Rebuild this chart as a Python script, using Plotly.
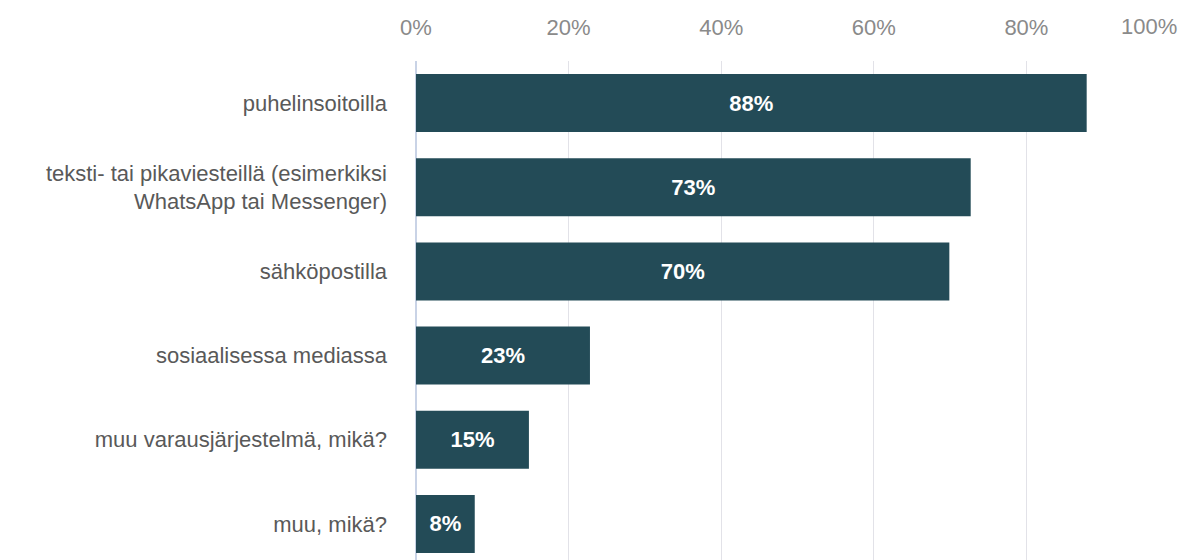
import plotly.graph_objects as go

categories = [
    "puhelinsoitoilla",
    "teksti- tai pikaviesteillä (esimerkiksi<br>WhatsApp tai Messenger)",
    "sähköpostilla",
    "sosiaalisessa mediassa",
    "muu varausjärjestelmä, mikä?",
    "muu, mikä?",
]
values = [87.9, 72.7, 69.9, 22.8, 14.8, 7.7]
labels = ["88%", "73%", "70%", "23%", "15%", "8%"]
tick_vals = [0, 20, 40, 60, 80, 100]
tick_text = ["0%", "20%", "40%", "60%", "80%", "100%"]

FS = 22

fig = go.Figure(go.Bar(
    y=categories,
    x=values,
    orientation="h",
    text=labels,
    textposition="inside",
    insidetextanchor="middle",
    textangle=0,
    textfont=dict(family="Liberation Sans, Arial", size=FS, color="white", weight="bold"),
    marker=dict(color="#234b57", line=dict(width=0)),
    hoverinfo="skip",
))

# last tick label would overflow the right edge; draw it right-aligned to its gridline
fig.add_annotation(
    x=tick_vals[-1], xref="x", xanchor="right",
    y=1, yref="paper", yanchor="middle", yshift=35,
    text=tick_text[-1], showarrow=False,
    font=dict(family="Liberation Sans, Arial", size=FS, color="#8a8a8a"),
)

fig.update_layout(
    width=1181,
    height=558,
    margin=dict(l=408, r=10, t=53, b=0, autoexpand=False),
    paper_bgcolor="white",
    plot_bgcolor="white",
    bargap=0.31,
    showlegend=False,
    font=dict(family="Liberation Sans, Arial", size=FS, color="#595959"),
    uniformtext=dict(minsize=10, mode="show"),
)
fig.update_xaxes(
    side="top",
    range=[0, 100],
    tickvals=tick_vals,
    ticktext=tick_text[:-1] + [""],
    tickfont=dict(size=FS, color="#8a8a8a"),
    showgrid=True,
    gridcolor="#e2e2e8",
    gridwidth=1,
    zeroline=True,
    zerolinecolor="#c9d3e6",
    zerolinewidth=1.5,
    showline=False,
    ticks="",
    ticklabelstandoff=21,
    automargin=False,
    fixedrange=True,
)
fig.update_yaxes(
    autorange="reversed",
    showgrid=False,
    ticks="",
    showline=False,
    ticklabelstandoff=28,
    tickfont=dict(size=FS, color="#595959"),
    automargin=False,
    fixedrange=True,
)

fig.write_html("out.html")
